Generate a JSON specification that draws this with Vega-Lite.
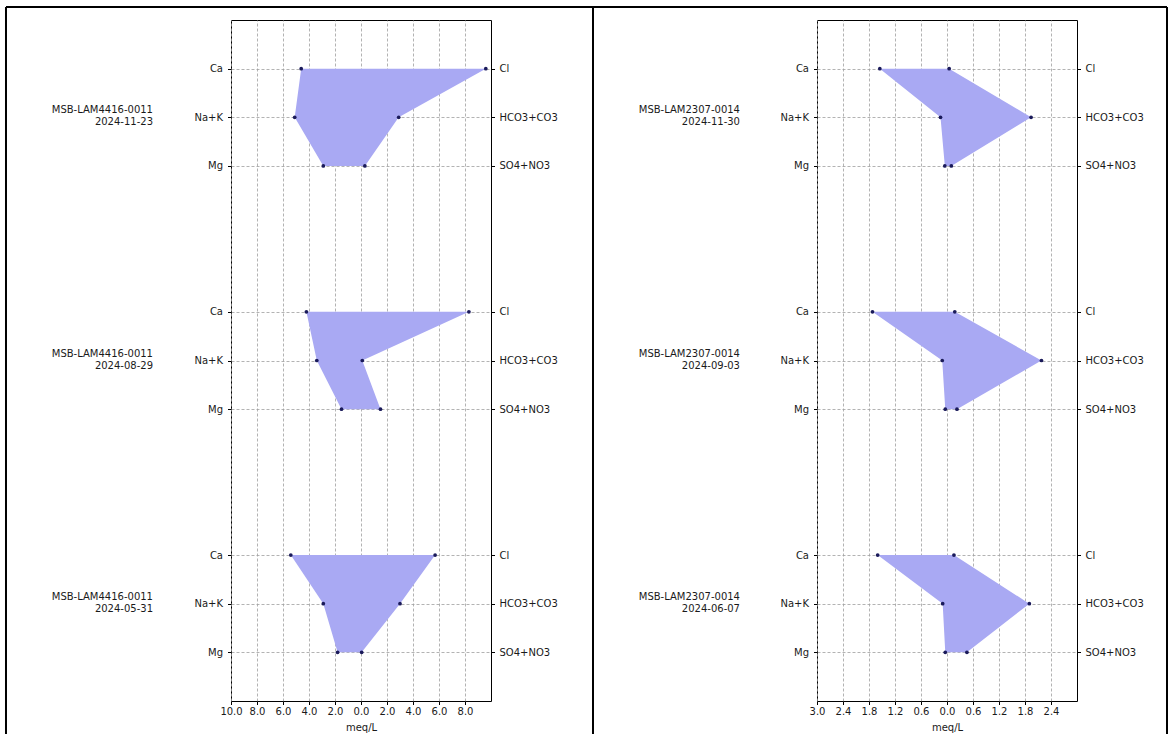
{
  "$schema": "https://vega.github.io/schema/vega-lite/v6.json",
  "padding": {"left": 4, "top": 5, "right": 0, "bottom": 0},
  "autosize": {"type": "pad"},
  "background": "white",
  "spacing": -4,
  "config": {
    "font": "DejaVu Sans",
    "view": {"stroke": "#000", "strokeWidth": 1},
    "axis": {
      "labelFont": "DejaVu Sans", "labelFontSize": 10, "labelColor": "#1a1a1a",
      "labelOverlap": false, "labelFlush": false, "labelBound": false,
      "titleFont": "DejaVu Sans", "titleFontSize": 10, "titleFontWeight": "normal", "titleColor": "#1a1a1a",
      "tickColor": "#000", "tickSize": 3.5, "domainColor": "#000", "tickCount": 30,
      "gridColor": "#a0a0a0", "gridDash": [3, 2], "gridWidth": 0.8
    }
  },
  "datasets": {
    "left": [
      {"diagram": "d1", "sample": "MSB-LAM4416-0011", "date": "2024-11-23", "row": 0, "cation": "Ca", "anion": "Cl", "cat": -4.6, "an": 9.6},
      {"diagram": "d1", "sample": "MSB-LAM4416-0011", "date": "2024-11-23", "row": 1, "cation": "Na+K", "anion": "HCO3+CO3", "cat": -5.1, "an": 2.9},
      {"diagram": "d1", "sample": "MSB-LAM4416-0011", "date": "2024-11-23", "row": 2, "cation": "Mg", "anion": "SO4+NO3", "cat": -2.9, "an": 0.3},
      {"diagram": "d2", "sample": "MSB-LAM4416-0011", "date": "2024-08-29", "row": 5, "cation": "Ca", "anion": "Cl", "cat": -4.2, "an": 8.3},
      {"diagram": "d2", "sample": "MSB-LAM4416-0011", "date": "2024-08-29", "row": 6, "cation": "Na+K", "anion": "HCO3+CO3", "cat": -3.4, "an": 0.1},
      {"diagram": "d2", "sample": "MSB-LAM4416-0011", "date": "2024-08-29", "row": 7, "cation": "Mg", "anion": "SO4+NO3", "cat": -1.5, "an": 1.5},
      {"diagram": "d3", "sample": "MSB-LAM4416-0011", "date": "2024-05-31", "row": 10, "cation": "Ca", "anion": "Cl", "cat": -5.4, "an": 5.7},
      {"diagram": "d3", "sample": "MSB-LAM4416-0011", "date": "2024-05-31", "row": 11, "cation": "Na+K", "anion": "HCO3+CO3", "cat": -2.9, "an": 3.0},
      {"diagram": "d3", "sample": "MSB-LAM4416-0011", "date": "2024-05-31", "row": 12, "cation": "Mg", "anion": "SO4+NO3", "cat": -1.8, "an": 0.05}
    ],
    "right": [
      {"diagram": "d1", "sample": "MSB-LAM2307-0014", "date": "2024-11-30", "row": 0, "cation": "Ca", "anion": "Cl", "cat": -1.55, "an": 0.05},
      {"diagram": "d1", "sample": "MSB-LAM2307-0014", "date": "2024-11-30", "row": 1, "cation": "Na+K", "anion": "HCO3+CO3", "cat": -0.15, "an": 1.94},
      {"diagram": "d1", "sample": "MSB-LAM2307-0014", "date": "2024-11-30", "row": 2, "cation": "Mg", "anion": "SO4+NO3", "cat": -0.05, "an": 0.1},
      {"diagram": "d2", "sample": "MSB-LAM2307-0014", "date": "2024-09-03", "row": 5, "cation": "Ca", "anion": "Cl", "cat": -1.72, "an": 0.18},
      {"diagram": "d2", "sample": "MSB-LAM2307-0014", "date": "2024-09-03", "row": 6, "cation": "Na+K", "anion": "HCO3+CO3", "cat": -0.11, "an": 2.18},
      {"diagram": "d2", "sample": "MSB-LAM2307-0014", "date": "2024-09-03", "row": 7, "cation": "Mg", "anion": "SO4+NO3", "cat": -0.04, "an": 0.23},
      {"diagram": "d3", "sample": "MSB-LAM2307-0014", "date": "2024-06-07", "row": 10, "cation": "Ca", "anion": "Cl", "cat": -1.6, "an": 0.16},
      {"diagram": "d3", "sample": "MSB-LAM2307-0014", "date": "2024-06-07", "row": 11, "cation": "Na+K", "anion": "HCO3+CO3", "cat": -0.1, "an": 1.9},
      {"diagram": "d3", "sample": "MSB-LAM2307-0014", "date": "2024-06-07", "row": 12, "cation": "Mg", "anion": "SO4+NO3", "cat": -0.04, "an": 0.46}
    ]
  },
  "hconcat": [
    {
      "width": 260,
      "height": 681,
      "data": {"name": "left"},
      "resolve": {"axis": {"y": "independent"}},
      "layer": [
        {
          "mark": {"type": "area", "orient": "horizontal", "color": "#a9a9f3", "opacity": 1},
          "encoding": {
            "y": {"field": "row", "type": "quantitative",
              "scale": {"domain": [-1, 13], "reverse": true, "nice": false, "zero": false},
              "axis": {"orient": "left", "values": [0, 1, 2, 5, 6, 7, 10, 11, 12], "labelExpr": "['Ca','Na+K','Mg'][datum.value % 5]", "title": null, "grid": true, "domain": false, "labelPadding": 5}},
            "x": {"field": "cat", "type": "quantitative",
              "scale": {"domain": [-10, 10], "nice": false, "zero": false},
              "axis": {"orient": "bottom", "values": [-10, -8, -6, -4, -2, 0, 2, 4, 6, 8], "tickCount": 30, "labelExpr": "format(abs(datum.value), '.1f')", "title": "meq/L", "grid": true, "domain": false, "labelPadding": 2, "titlePadding": 6}},
            "x2": {"field": "an"},
            "detail": {"field": "diagram"}
          }
        },
        {
          "mark": {"type": "point", "filled": true, "size": 14, "color": "#1a1a5a", "opacity": 1},
          "encoding": {
            "x": {"field": "cat", "type": "quantitative",
              "axis": {"orient": "bottom", "values": [-10, -8, -6, -4, -2, 0, 2, 4, 6, 8], "tickCount": 30, "labelExpr": "format(abs(datum.value), '.1f')", "title": "meq/L", "grid": true, "domain": false, "labelPadding": 2, "titlePadding": 6}},
            "y": {"field": "row", "type": "quantitative", "axis": null}
          }
        },
        {
          "mark": {"type": "point", "filled": true, "size": 14, "color": "#1a1a5a", "opacity": 1},
          "encoding": {
            "x": {"field": "an", "type": "quantitative",
              "axis": {"orient": "bottom", "values": [-10, -8, -6, -4, -2, 0, 2, 4, 6, 8], "tickCount": 30, "labelExpr": "format(abs(datum.value), '.1f')", "title": "meq/L", "grid": true, "domain": false, "labelPadding": 2, "titlePadding": 6}},
            "y": {"field": "row", "type": "quantitative",
              "axis": {"orient": "right", "values": [0, 1, 2, 5, 6, 7, 10, 11, 12], "labelExpr": "['Cl','HCO3+CO3','SO4+NO3'][datum.value % 5]", "title": null, "grid": false, "domain": false, "labelPadding": 4.5}}
          }
        },
        {
          "transform": [{"filter": "datum.cation == 'Na+K'"}],
          "mark": {"type": "text", "align": "right", "baseline": "middle", "dy": -7, "fontSize": 10, "font": "DejaVu Sans", "color": "#1a1a1a"},
          "encoding": {
            "x": {"datum": -16},
            "y": {"field": "row", "type": "quantitative", "axis": null},
            "text": {"field": "sample"}
          }
        },
        {
          "transform": [{"filter": "datum.cation == 'Na+K'"}],
          "mark": {"type": "text", "align": "right", "baseline": "middle", "dy": 5, "fontSize": 10, "font": "DejaVu Sans", "color": "#1a1a1a"},
          "encoding": {
            "x": {"datum": -16},
            "y": {"field": "row", "type": "quantitative", "axis": null},
            "text": {"field": "date"}
          }
        },
        {
          "data": {"values": [{}]},
          "mark": {"type": "rule", "color": "#000", "strokeWidth": 2},
          "encoding": {
            "x": {"datum": -27.308},
            "y": {"datum": -1.267, "axis": null},
            "y2": {"datum": 13.68}
          }
        },
        {
          "data": {"values": [{}]},
          "mark": {"type": "rule", "color": "#000", "strokeWidth": 2},
          "encoding": {
            "x": {"datum": 17.846},
            "y": {"datum": -1.267, "axis": null},
            "y2": {"datum": 13.68}
          }
        },
        {
          "data": {"values": [{}]},
          "mark": {"type": "rule", "color": "#000", "strokeWidth": 2},
          "encoding": {
            "x": {"datum": -27.308},
            "x2": {"datum": 17.846},
            "y": {"datum": -1.267, "axis": null}
          }
        }
      ]
    },
    {
      "width": 260,
      "height": 681,
      "data": {"name": "right"},
      "resolve": {"axis": {"y": "independent"}},
      "layer": [
        {
          "mark": {"type": "area", "orient": "horizontal", "color": "#a9a9f3", "opacity": 1},
          "encoding": {
            "y": {"field": "row", "type": "quantitative",
              "scale": {"domain": [-1, 13], "reverse": true, "nice": false, "zero": false},
              "axis": {"orient": "left", "values": [0, 1, 2, 5, 6, 7, 10, 11, 12], "labelExpr": "['Ca','Na+K','Mg'][datum.value % 5]", "title": null, "grid": true, "domain": false, "labelPadding": 5}},
            "x": {"field": "cat", "type": "quantitative",
              "scale": {"domain": [-3, 3], "nice": false, "zero": false},
              "axis": {"orient": "bottom", "values": [-3, -2.4, -1.8, -1.2, -0.6, 0, 0.6, 1.2, 1.8, 2.4], "tickCount": 30, "labelExpr": "format(abs(datum.value), '.1f')", "title": "meq/L", "grid": true, "domain": false, "labelPadding": 2, "titlePadding": 6}},
            "x2": {"field": "an"},
            "detail": {"field": "diagram"}
          }
        },
        {
          "mark": {"type": "point", "filled": true, "size": 14, "color": "#1a1a5a", "opacity": 1},
          "encoding": {
            "x": {"field": "cat", "type": "quantitative",
              "axis": {"orient": "bottom", "values": [-3, -2.4, -1.8, -1.2, -0.6, 0, 0.6, 1.2, 1.8, 2.4], "tickCount": 30, "labelExpr": "format(abs(datum.value), '.1f')", "title": "meq/L", "grid": true, "domain": false, "labelPadding": 2, "titlePadding": 6}},
            "y": {"field": "row", "type": "quantitative", "axis": null}
          }
        },
        {
          "mark": {"type": "point", "filled": true, "size": 14, "color": "#1a1a5a", "opacity": 1},
          "encoding": {
            "x": {"field": "an", "type": "quantitative",
              "axis": {"orient": "bottom", "values": [-3, -2.4, -1.8, -1.2, -0.6, 0, 0.6, 1.2, 1.8, 2.4], "tickCount": 30, "labelExpr": "format(abs(datum.value), '.1f')", "title": "meq/L", "grid": true, "domain": false, "labelPadding": 2, "titlePadding": 6}},
            "y": {"field": "row", "type": "quantitative",
              "axis": {"orient": "right", "values": [0, 1, 2, 5, 6, 7, 10, 11, 12], "labelExpr": "['Cl','HCO3+CO3','SO4+NO3'][datum.value % 5]", "title": null, "grid": false, "domain": false, "labelPadding": 4.5}}
          }
        },
        {
          "transform": [{"filter": "datum.cation == 'Na+K'"}],
          "mark": {"type": "text", "align": "right", "baseline": "middle", "dy": -7, "fontSize": 10, "font": "DejaVu Sans", "color": "#1a1a1a"},
          "encoding": {
            "x": {"datum": -4.777},
            "y": {"field": "row", "type": "quantitative", "axis": null},
            "text": {"field": "sample"}
          }
        },
        {
          "transform": [{"filter": "datum.cation == 'Na+K'"}],
          "mark": {"type": "text", "align": "right", "baseline": "middle", "dy": 5, "fontSize": 10, "font": "DejaVu Sans", "color": "#1a1a1a"},
          "encoding": {
            "x": {"datum": -4.777},
            "y": {"field": "row", "type": "quantitative", "axis": null},
            "text": {"field": "date"}
          }
        },
        {
          "data": {"values": [{}]},
          "mark": {"type": "rule", "color": "#000", "strokeWidth": 2},
          "encoding": {
            "x": {"datum": -8.169},
            "x2": {"datum": 5.077},
            "y": {"datum": -1.267, "axis": null}
          }
        },
        {
          "data": {"values": [{}]},
          "mark": {"type": "rule", "color": "#000", "strokeWidth": 2},
          "encoding": {
            "x": {"datum": 5.077},
            "y": {"datum": -1.267, "axis": null},
            "y2": {"datum": 13.68}
          }
        }
      ]
    }
  ]
}
